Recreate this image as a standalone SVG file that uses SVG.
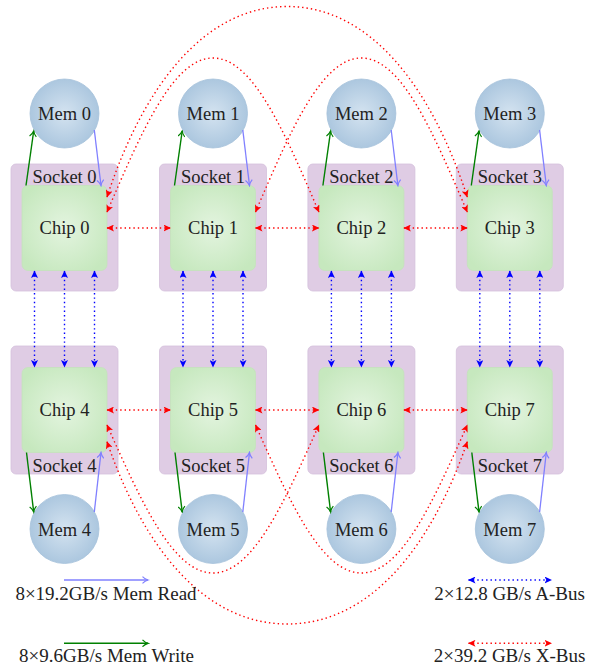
<svg xmlns="http://www.w3.org/2000/svg" width="599" height="668" viewBox="0 0 599 668">
<style>
  text { font-family: "Liberation Serif", "Times New Roman", serif; font-size: 18.5px; fill: #222; text-anchor: middle; }
  .lg { font-size: 19px; }
  .socket { fill: #dfcce4; stroke: #d4c0dc; stroke-width: 0.8; }
  .chip { fill: url(#gChip); stroke: #c4e2bb; stroke-width: 0.8; }
  .mem { fill: url(#gMem); stroke: #a6c2db; stroke-width: 0.8; }
  .rd { fill: none; stroke: #ff0000; stroke-width: 1.4; stroke-dasharray: 1.4 3; marker-start: url(#triR); marker-end: url(#triR); }
  .bd { fill: none; stroke: #0000ff; stroke-width: 1.4; stroke-dasharray: 1.4 3; marker-start: url(#triB); marker-end: url(#triB); }
  .rw { fill: none; stroke: #8080ff; stroke-width: 1.3; marker-end: url(#arrB); }
  .wr { fill: none; stroke: #008000; stroke-width: 1.4; marker-end: url(#arrG); }
</style>
<defs>
  <radialGradient id="gChip" cx="50%" cy="50%" r="60%">
    <stop offset="0" stop-color="#e3f4df"/>
    <stop offset="1" stop-color="#c6e8be"/>
  </radialGradient>
  <radialGradient id="gMem" cx="50%" cy="50%" r="50%">
    <stop offset="0" stop-color="#d4e3f0"/>
    <stop offset="1" stop-color="#acc7df"/>
  </radialGradient>
  <marker id="triR" markerUnits="userSpaceOnUse" viewBox="0 0 8 7" refX="7" refY="3.5" markerWidth="8" markerHeight="7" orient="auto-start-reverse">
    <path d="M0,0 L7.5,3.5 L0,7 L1.8,3.5 z" fill="#ff0000"/>
  </marker>
  <marker id="triB" markerUnits="userSpaceOnUse" viewBox="0 0 8 7" refX="7" refY="3.5" markerWidth="8" markerHeight="7" orient="auto-start-reverse">
    <path d="M0,0 L7.5,3.5 L0,7 L1.8,3.5 z" fill="#0000ff"/>
  </marker>
  <marker id="arrB" markerUnits="userSpaceOnUse" viewBox="0 0 8 8" refX="6.5" refY="4" markerWidth="8" markerHeight="8" orient="auto">
    <path d="M1,0.6 Q3.5,3.2 6.5,4 Q3.5,4.8 1,7.4" fill="none" stroke="#8080ff" stroke-width="1.2"/>
  </marker>
  <marker id="arrG" markerUnits="userSpaceOnUse" viewBox="0 0 8 8" refX="6.5" refY="4" markerWidth="8" markerHeight="8" orient="auto">
    <path d="M1,0.6 Q3.5,3.2 6.5,4 Q3.5,4.8 1,7.4" fill="none" stroke="#008000" stroke-width="1.2"/>
  </marker>
</defs>

<!-- Sockets -->
<g id="socket0"><rect class="socket" x="11" y="164" width="107" height="127" rx="5"/><text x="64.5" y="183">Socket 0</text></g>
<g id="socket1"><rect class="socket" x="159.5" y="164" width="107" height="127" rx="5"/><text x="213" y="183">Socket 1</text></g>
<g id="socket2"><rect class="socket" x="307.9" y="164" width="107" height="127" rx="5"/><text x="361.4" y="183">Socket 2</text></g>
<g id="socket3"><rect class="socket" x="456.3" y="164" width="107" height="127" rx="5"/><text x="509.8" y="183">Socket 3</text></g>
<g id="socket4"><rect class="socket" x="11" y="346" width="107" height="128" rx="5"/><text x="64.5" y="472">Socket 4</text></g>
<g id="socket5"><rect class="socket" x="159.5" y="346" width="107" height="128" rx="5"/><text x="213" y="472">Socket 5</text></g>
<g id="socket6"><rect class="socket" x="307.9" y="346" width="107" height="128" rx="5"/><text x="361.4" y="472">Socket 6</text></g>
<g id="socket7"><rect class="socket" x="456.3" y="346" width="107" height="128" rx="5"/><text x="509.8" y="472">Socket 7</text></g>

<!-- Chips -->
<g id="chip0"><rect class="chip" x="22" y="185.5" width="85" height="85" rx="6"/><text x="64.5" y="234">Chip 0</text></g>
<g id="chip1"><rect class="chip" x="170.5" y="185.5" width="85" height="85" rx="6"/><text x="213" y="234">Chip 1</text></g>
<g id="chip2"><rect class="chip" x="318.9" y="185.5" width="85" height="85" rx="6"/><text x="361.4" y="234">Chip 2</text></g>
<g id="chip3"><rect class="chip" x="467.3" y="185.5" width="85" height="85" rx="6"/><text x="509.8" y="234">Chip 3</text></g>
<g id="chip4"><rect class="chip" x="22" y="367.5" width="85" height="85" rx="6"/><text x="64.5" y="416">Chip 4</text></g>
<g id="chip5"><rect class="chip" x="170.5" y="367.5" width="85" height="85" rx="6"/><text x="213" y="416">Chip 5</text></g>
<g id="chip6"><rect class="chip" x="318.9" y="367.5" width="85" height="85" rx="6"/><text x="361.4" y="416">Chip 6</text></g>
<g id="chip7"><rect class="chip" x="467.3" y="367.5" width="85" height="85" rx="6"/><text x="509.8" y="416">Chip 7</text></g>

<!-- Memories -->
<g id="mem0"><circle class="mem" cx="64.5" cy="113.5" r="34.5"/><text x="64.5" y="120">Mem 0</text></g>
<g id="mem1"><circle class="mem" cx="213" cy="113.5" r="34.5"/><text x="213" y="120">Mem 1</text></g>
<g id="mem2"><circle class="mem" cx="361.4" cy="113.5" r="34.5"/><text x="361.4" y="120">Mem 2</text></g>
<g id="mem3"><circle class="mem" cx="509.8" cy="113.5" r="34.5"/><text x="509.8" y="120">Mem 3</text></g>
<g id="mem4"><circle class="mem" cx="64.5" cy="529" r="34.5"/><text x="64.5" y="535.5">Mem 4</text></g>
<g id="mem5"><circle class="mem" cx="213" cy="529" r="34.5"/><text x="213" y="535.5">Mem 5</text></g>
<g id="mem6"><circle class="mem" cx="361.4" cy="529" r="34.5"/><text x="361.4" y="535.5">Mem 6</text></g>
<g id="mem7"><circle class="mem" cx="509.8" cy="529" r="34.5"/><text x="509.8" y="535.5">Mem 7</text></g>

<!-- Connectors -->
<g id="connectors">
  <!-- memory write (green) and read (light blue), top row -->
  <line class="wr" x1="26" y1="185.5" x2="33.7" y2="131"/>
  <line class="rw" x1="94.3" y1="130" x2="101" y2="185.5"/>
  <line class="wr" x1="174.5" y1="185.5" x2="182.2" y2="131"/>
  <line class="rw" x1="242.8" y1="130" x2="249.5" y2="185.5"/>
  <line class="wr" x1="322.9" y1="185.5" x2="330.6" y2="131"/>
  <line class="rw" x1="391.2" y1="130" x2="397.9" y2="185.5"/>
  <line class="wr" x1="471.3" y1="185.5" x2="479" y2="131"/>
  <line class="rw" x1="539.6" y1="130" x2="546.3" y2="185.5"/>
  <!-- bottom row -->
  <line class="wr" x1="26.5" y1="452.5" x2="33.7" y2="512"/>
  <line class="rw" x1="94.3" y1="512" x2="101" y2="452.5"/>
  <line class="wr" x1="175" y1="452.5" x2="182.2" y2="512"/>
  <line class="rw" x1="242.8" y1="512" x2="249.5" y2="452.5"/>
  <line class="wr" x1="323.4" y1="452.5" x2="330.6" y2="512"/>
  <line class="rw" x1="391.2" y1="512" x2="397.9" y2="452.5"/>
  <line class="wr" x1="471.8" y1="452.5" x2="479" y2="512"/>
  <line class="rw" x1="539.6" y1="512" x2="546.3" y2="452.5"/>

  <!-- A-Bus (blue dotted, vertical) -->
  <line class="bd" x1="34.5" y1="271" x2="34.5" y2="367"/>
  <line class="bd" x1="64.5" y1="271" x2="64.5" y2="367"/>
  <line class="bd" x1="94.5" y1="271" x2="94.5" y2="367"/>
  <line class="bd" x1="183" y1="271" x2="183" y2="367"/>
  <line class="bd" x1="213" y1="271" x2="213" y2="367"/>
  <line class="bd" x1="243" y1="271" x2="243" y2="367"/>
  <line class="bd" x1="331.4" y1="271" x2="331.4" y2="367"/>
  <line class="bd" x1="361.4" y1="271" x2="361.4" y2="367"/>
  <line class="bd" x1="391.4" y1="271" x2="391.4" y2="367"/>
  <line class="bd" x1="479.8" y1="271" x2="479.8" y2="367"/>
  <line class="bd" x1="509.8" y1="271" x2="509.8" y2="367"/>
  <line class="bd" x1="539.8" y1="271" x2="539.8" y2="367"/>

  <!-- X-Bus horizontal (red dotted) -->
  <line class="rd" x1="107" y1="228" x2="170.5" y2="228"/>
  <line class="rd" x1="255.5" y1="228" x2="318.9" y2="228"/>
  <line class="rd" x1="403.9" y1="228" x2="467.3" y2="228"/>
  <line class="rd" x1="107" y1="410" x2="170.5" y2="410"/>
  <line class="rd" x1="255.5" y1="410" x2="318.9" y2="410"/>
  <line class="rd" x1="403.9" y1="410" x2="467.3" y2="410"/>

  <!-- X-Bus arcs -->
  <path class="rd" d="M107,197 C143,87 204,6.5 287.15,6.5 C370.3,6.5 431.3,87 467.3,197"/>
  <path class="rd" d="M107,212 C141.4,132 173,58 213,58 C253,58 284.5,132 318.9,212"/>
  <path class="rd" d="M255.5,212 C289.8,132 321.4,58 361.4,58 C401.4,58 432.9,132 467.3,212"/>
  <path class="rd" d="M107,441.7 C143,547 204,624 287.15,624 C370.3,624 431.3,547 467.3,441.7"/>
  <path class="rd" d="M107,425 C141.4,502 173,573 213,573 C253,573 284.5,502 318.9,425"/>
  <path class="rd" d="M255.5,425 C289.8,502 321.4,573 361.4,573 C401.4,573 432.9,502 467.3,425"/>
</g>

<!-- Legend -->
<g id="legend">
  <line class="rw" x1="64" y1="580" x2="148" y2="580"/>
  <text class="lg" x="106" y="600">8×19.2GB/s Mem Read</text>
  <line class="wr" x1="64" y1="643.3" x2="148" y2="643.3"/>
  <text class="lg" x="106.5" y="662">8×9.6GB/s Mem Write</text>
  <line class="bd" x1="468.5" y1="580" x2="551.5" y2="580"/>
  <text class="lg" x="509.5" y="600">2×12.8 GB/s A-Bus</text>
  <line class="rd" x1="468.5" y1="643.3" x2="551.5" y2="643.3"/>
  <text class="lg" x="509.5" y="662">2×39.2 GB/s X-Bus</text>
</g>
</svg>
